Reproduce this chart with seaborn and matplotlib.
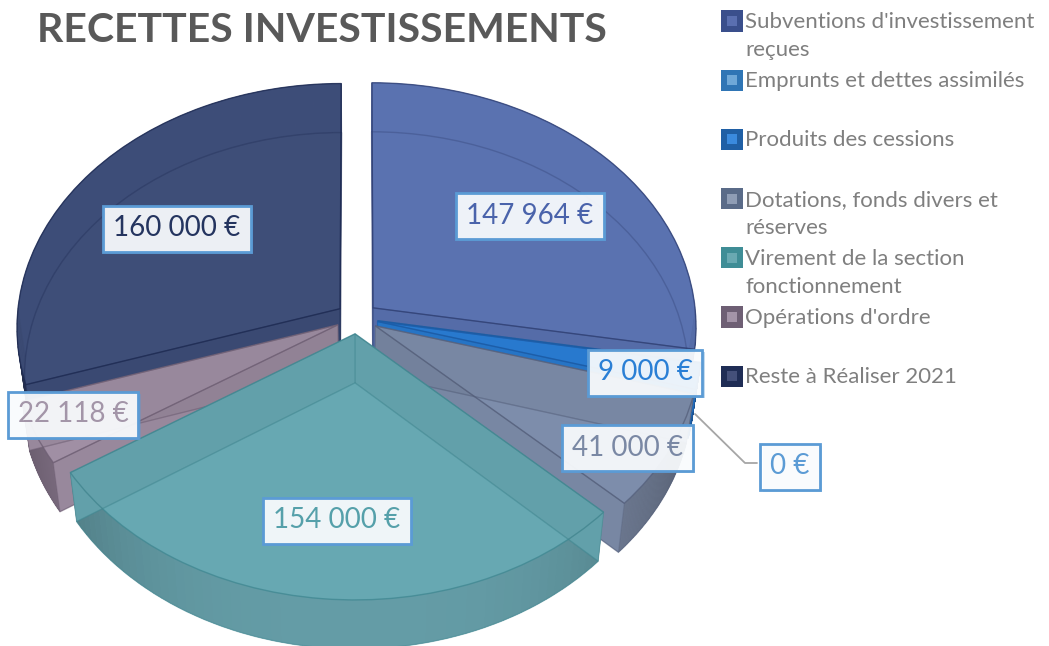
import numpy as np
import matplotlib
matplotlib.use('Agg')
import matplotlib.pyplot as plt
import matplotlib.patheffects as pe
from matplotlib.colors import to_rgba, to_rgb
from matplotlib.transforms import Transform, Affine2D
import seaborn as sns

sns.set_theme(style='white')
plt.rcParams['font.family'] = ['Lato', 'DejaVu Sans']

names = ["Subventions d'investissement\nreçues", 'Emprunts et dettes assimilés',
         'Produits des cessions', 'Dotations, fonds divers et\nréserves',
         'Virement de la section\nfonctionnement', "Opérations d'ordre", 'Reste à Réaliser 2021']
values = [147964, 0, 9000, 41000, 154000, 22118, 160000]
labels = ['147 964 €', '0 €', '9 000 €', '41 000 €', '154 000 €', '22 118 €', '160 000 €']

face_colors = ['#5a72b0', '#2e75b6', '#2a7fd8', '#7d8dab', '#67a8b2', '#a08fa4', '#3d4d78']
wall_colors = ['#4f64a0', '#2a69a5', '#2672c4', '#78859f', '#649ca6', '#917f96', '#36446c']
edge_colors = ['#2f3f73', '#1f5fa5', '#1c5ca8', '#55607c', '#3f8791', '#6e5f74', '#1d2a52']
text_colors = ['#4a63ab', '#5b9bd5', '#2a7fd5', '#7a88a4', '#55a0aa', '#a395a8', '#24345f']
legend_outer = ['#3a4f8c', '#2f75b5', '#1f5fa5', '#5a6b88', '#3f8d96', '#6e5f74', '#1f2d55']
legend_inner = ['#5a6fb0', '#6fa8d8', '#3a8ade', '#8f9db5', '#69a9b2', '#a494a8', '#44507a']

# draw order, back to front
draw_order = [6, 5, 0, 1, 2, 3, 4]

# pie geometry, in pixels around the pie centre
CX, CY = 357, 318
RX, RY = 323, 243.5
PERSP = 0.0755
DEPTH = 49
BOTTOM_X = 0.978
EXPLODE = 0.065


class Persp(Transform):
    input_dims = 2
    output_dims = 2

    def transform_non_affine(self, pts):
        pts = np.asarray(pts, dtype=float)
        w = 1 + PERSP * pts[:, 1]
        return np.column_stack([RX * pts[:, 0] / w, RY * pts[:, 1] / w])


def px(x, y):
    return x - CX, CY - y


def lower(pts):
    return np.column_stack([pts[:, 0] * BOTTOM_X, pts[:, 1] - DEPTH])


fig = plt.figure(figsize=(10.49, 6.46), dpi=100)
ax = fig.add_axes([0, 0, 1, 1])

pie_args = dict(explode=[EXPLODE] * 7, startangle=90, counterclock=False)
bottom, _ = ax.pie(values, **pie_args)
top, _ = ax.pie(values, **pie_args)
lines, _ = ax.pie(values, **pie_args)
persp = Persp()
low_tr = persp + Affine2D().scale(BOTTOM_X, 1).translate(0, -DEPTH) + ax.transData

for z, i in enumerate(draw_order):
    fc, wc, ec = face_colors[i], wall_colors[i], edge_colors[i]
    base = 2 + z * 4
    bottom[i].set_transform(low_tr)
    bottom[i].set(facecolor=to_rgba(fc, 0.95), edgecolor='none', zorder=base)
    top[i].set_transform(persp + ax.transData)
    top[i].set(facecolor=to_rgba(fc, 0.88), edgecolor=to_rgba(ec, 0.75), linewidth=1, zorder=base + 2)
    lines[i].set_transform(low_tr)
    lines[i].set(facecolor='none', edgecolor=to_rgba(ec, 0.35), linewidth=1, zorder=base + 3)

    # side walls, from the angles the pie worked out
    cen = np.array(top[i].center)
    t1, t2 = np.radians(top[i].theta1), np.radians(top[i].theta2)
    arc = np.linspace(t1, t2, 61)
    rim = persp.transform_non_affine(np.column_stack([cen[0] + np.cos(arc), cen[1] + np.sin(arc)]))
    apex = persp.transform_non_affine(cen[None, :])

    for k in range(60):
        seg = rim[k:k + 2]
        mid = (arc[k] + arc[k + 1]) / 2
        if np.sin(mid) > 0.0:
            col = to_rgb(fc)  # hidden back part, same tone as the face
        else:
            shade = 1 - 0.3 * abs(np.cos(mid)) ** 3
            col = tuple(c * shade for c in to_rgb(wc))
        poly = np.vstack([seg, lower(seg)[::-1]])
        ax.fill(poly[:, 0], poly[:, 1], facecolor=col, edgecolor=col, linewidth=0.4, zorder=base + 1)

    # cut faces: solid under the top, a thin dark veil over it
    for end in (rim[0], rim[-1]):
        w = np.vstack([apex, end[None, :]])
        w = np.vstack([w, lower(w)[::-1]])
        dark = tuple(c * 0.7 for c in to_rgb(wc))
        ax.fill(w[:, 0], w[:, 1], facecolor=fc, edgecolor='none', zorder=base + 1)
        ax.fill(w[:, 0], w[:, 1], facecolor=to_rgba(dark, 0.12), edgecolor=to_rgba(ec, 0.35),
                linewidth=0.8, zorder=base + 3)

# leader line for the empty slice
lx, ly = zip(px(695, 414), px(745, 463), px(757, 463))
ax.plot(lx, ly, color='#a6a6a6', lw=1.3, zorder=60)

# data labels
label_pos = [(530, 213), (790, 464), (645, 370), (627, 445), (337, 518), (73, 412), (177, 226)]
for i, (x, y) in enumerate(label_pos):
    tx, ty = px(x, y)
    t = ax.text(tx, ty, labels[i], color=text_colors[i], fontsize=20, ha='center', va='center_baseline', zorder=70,
                bbox=dict(boxstyle='square,pad=0.36', facecolor=to_rgba('#ffffff', 0.9),
                          edgecolor='#5b9bd5', linewidth=2))
    t.get_bbox_patch().set_path_effects([
        pe.SimplePatchShadow(offset=(2, -2), shadow_rgbFace='#5b9bd5', alpha=0.35), pe.Normal()])

# legend drawn by hand since rows keep an even pitch whatever the line count
rows = [21 + 59.2 * k for k in range(7)]
mx = [px(732, r)[0] for r in rows]
my = [px(732, r)[1] for r in rows]
sns.scatterplot(x=mx, y=my, hue=names, palette=legend_outer, marker='s', s=235, linewidth=0,
                legend=False, ax=ax, zorder=80)
sns.scatterplot(x=mx, y=my, hue=names, palette=legend_inner, marker='s', s=52, linewidth=0,
                legend=False, ax=ax, zorder=81)
for name, r in zip(names, rows):
    tx, ty = px(745, r - 9)
    ax.text(tx, ty, name, color='#7f7f7f', fontsize=16, ha='left', va='top', linespacing=1.5, zorder=80)

tx, ty = px(322, 30)
ax.text(tx, ty, 'RECETTES INVESTISSEMENTS', color='#595959', fontsize=29.5, fontweight='bold',
        ha='center', va='center', zorder=80)

ax.set_xlim(-CX, 1049 - CX)
ax.set_ylim(CY - 646, CY)
ax.set_aspect('auto')
ax.set_axis_off()
fig.savefig('out.png', dpi=100)
